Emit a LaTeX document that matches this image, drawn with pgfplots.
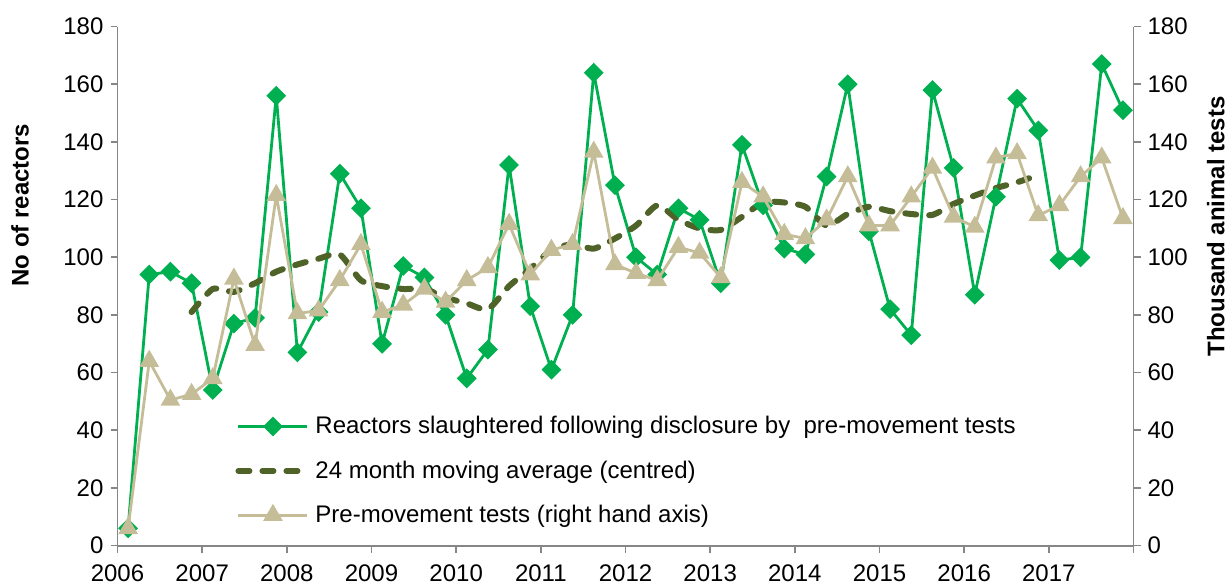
\documentclass[border=0pt]{standalone}
\usepackage{fontspec}
\setmainfont{Liberation Sans}
\usepackage{pgfplots}
\usepackage{pgfplotstable}
\pgfplotsset{compat=1.18}
\definecolor{cgreen}{HTML}{00B050}
\definecolor{colive}{HTML}{4F6228}
\definecolor{ctan}{HTML}{C4BD97}
\definecolor{caxis}{HTML}{868686}

\pgfplotstableread{
x r t
2006.125 6 6
2006.375 94 64
2006.625 95 50.5
2006.875 91 52.5
2007.125 54 58
2007.375 77 92.5
2007.625 79 69.5
2007.875 156 121.5
2008.125 67 80.5
2008.375 81 81.5
2008.625 129 92
2008.875 117 104.5
2009.125 70 81
2009.375 97 83.5
2009.625 93 89
2009.875 80 84.5
2010.125 58 92
2010.375 68 96.5
2010.625 132 111.5
2010.875 83 94
2011.125 61 102.5
2011.375 80 104.5
2011.625 164 136.5
2011.875 125 97.5
2012.125 100 94.5
2012.375 94 92
2012.625 117 103.5
2012.875 113 101.5
2013.125 91 93
2013.375 139 126
2013.625 118 121
2013.875 103 108
2014.125 101 106.5
2014.375 128 113
2014.625 160 128
2014.875 109 111
2015.125 82 111
2015.375 73 121
2015.625 158 131
2015.875 131 114
2016.125 87 110.5
2016.375 121 134.5
2016.625 155 136
2016.875 144 114.5
2017.125 99 118
2017.375 100 128
2017.625 167 134.5
2017.875 151 113.5
}\data

\pgfplotstableread{
x m
2006.875 81
2007.125 89
2007.375 88
2007.625 91
2007.875 95
2008.125 97.5
2008.375 99.5
2008.625 101
2008.875 92
2009.125 90
2009.375 89
2009.625 89
2009.875 86
2010.125 84
2010.375 82
2010.625 90
2010.875 96
2011.125 102.5
2011.375 104.5
2011.625 103
2011.875 106.5
2012.125 111
2012.375 118
2012.625 113
2012.875 110
2013.125 109.5
2013.375 114
2013.625 119
2013.875 119
2014.125 117.5
2014.375 111
2014.625 115
2014.875 117.5
2015.125 116
2015.375 115
2015.625 114.7
2015.875 118.5
2016.125 121.4
2016.375 124
2016.625 126
2016.875 128.5
}\mavg

\begin{document}
\begin{tikzpicture}
\pgfplotsset{
 common/.style={
  scale only axis, width=508pt, height=259.5pt,
  xmin=2006, xmax=2018, ymin=0, ymax=180,
  ytick={0,20,...,180},
  tick align=outside, major tick length=3.5pt,
  every tick/.style={caxis, line width=0.8pt},
  axis line style={caxis, line width=0.9pt},
  tick label style={font=\fontsize{12}{14}\selectfont, /pgf/number format/assume math mode=true},
  label style={font=\fontsize{12}{14}\selectfont\bfseries},
  clip=false,
 },
}
\begin{axis}[common, name=ax,
  axis x line*=bottom, axis y line*=left,
  xtick={2006,2007,2008,2009,2010,2011,2012,2013,2014,2015,2016,2017,2018},
  xticklabels={2006,2007,2008,2009,2010,2011,2012,2013,2014,2015,2016,2017,{}},
  xticklabel style={yshift=-2.5pt},
  ylabel={No of reactors},
  ylabel style={at={(axis description cs:-0.096,0.656)}, anchor=center},
]
\addplot[cgreen, line width=1.4pt, mark=square*, mark size=2.8pt, mark options={rotate=45, solid}] table[x=x,y=r]{\data};
\addplot[colive, line width=3pt, dash pattern=on 5.5pt off 6.5pt, line cap=round, smooth, tension=0.4] table[x=x,y=m]{\mavg};
\end{axis}
\begin{axis}[common,
  axis y line*=right, axis x line=none,
  ylabel={Thousand animal tests},
  ylabel style={at={(axis description cs:1.081,0.615)}, anchor=center},
  legend image code/.code={\draw[mark repeat=2,mark phase=2,#1] plot coordinates {(0pt,0pt) (17.25pt,0pt) (34.5pt,0pt)};},
  legend style={at={(0.1157,0.25)}, anchor=north west, draw=none, fill=none,
    font=\fontsize{12}{14}\selectfont, row sep=12pt, column sep=2.5pt,
    inner sep=0pt, nodes={inner sep=0pt}, cells={anchor=west}},
]
\addlegendimage{cgreen, line width=1.4pt, mark=square*, mark size=2.8pt, mark options={rotate=45, solid}}
\addlegendentry{Reactors slaughtered following disclosure by\ \ pre-movement tests}
\addlegendimage{colive, line width=3pt, dash pattern=on 5.5pt off 6.5pt, line cap=round}
\addlegendentry{24 month moving average (centred)}
\addplot[ctan, line width=1.4pt, mark=triangle*, mark size=4.3pt, mark options={solid}] table[x=x,y=t]{\data};
\addlegendentry{Pre-movement tests (right hand axis)}
\end{axis}
\pgfresetboundingbox
\path (ax.south west) ++(-58.75pt,-19.2pt) rectangle ++(614.5pt,292pt);
\end{tikzpicture}
\end{document}
